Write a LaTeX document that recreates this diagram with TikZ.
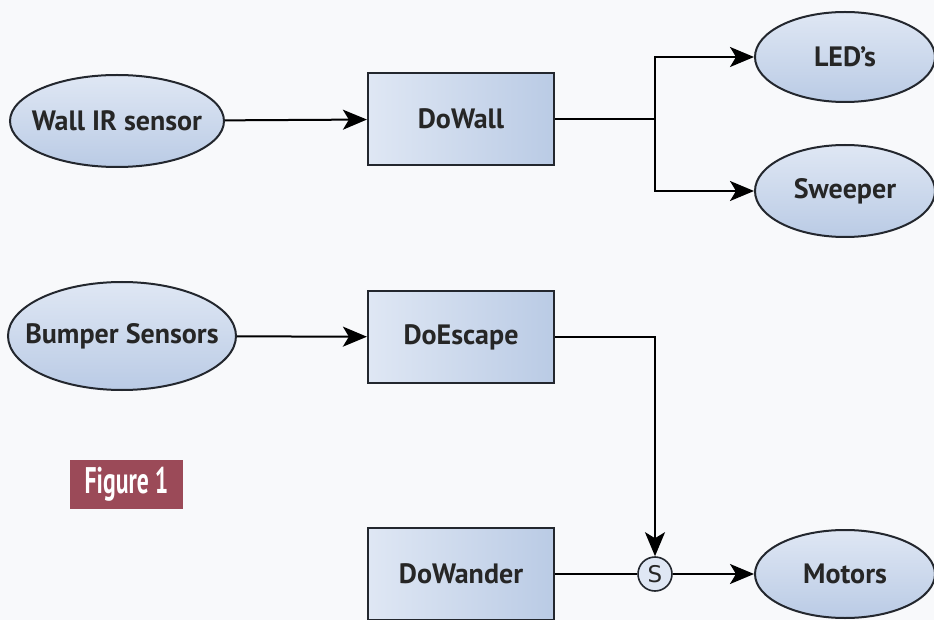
\documentclass[tikz,border=0pt]{standalone}
\usepackage{fontspec}
\setmainfont{PT Sans}
\newfontfamily\labelfont{PT Sans}[FakeStretch=0.64]
\newfontfamily\symfont{DejaVu Sans}
\usetikzlibrary{shapes.geometric,arrows.meta}
\definecolor{nodeline}{HTML}{23272E}
\definecolor{nodetop}{HTML}{DFE7F4}
\definecolor{nodebot}{HTML}{BACBE5}
\definecolor{figred}{HTML}{9B4A58}
\definecolor{paper}{HTML}{F8F9FB}
\newcommand{\zerowide}[1]{\makebox[0pt]{#1}}
\tikzset{
  x=1pt, y=-1pt,
  every node/.style={font=\bfseries\fontsize{28}{30}\selectfont, text=black!85},
  oval/.style={ellipse, draw=nodeline, line width=2pt, top color=nodetop, bottom color=nodebot, inner sep=0pt},
  block/.style={rectangle, draw=nodeline, line width=2.2pt, left color=nodetop, right color=nodebot, minimum width=186pt, minimum height=92pt, inner sep=0pt},
  sw/.style={circle, draw=nodeline, line width=1.6pt, fill=nodetop, minimum size=34pt, inner sep=0pt, font=\symfont\fontsize{23}{26}\selectfont},
  wire/.style={line width=2pt, draw=black},
  flow/.style={wire, -{Stealth[length=24pt,width=20pt,inset=6pt]}},
}
\begin{document}
\begin{tikzpicture}
  \fill[paper] (0,0) rectangle (934,620);
  \useasboundingbox (0,0) rectangle (934,620);

  % sensors and actuators (fixed outline size, text kept inside)
  \node[oval, minimum width=214pt, minimum height=92pt] (wall) at (117,121) {\zerowide{Wall IR sensor}};
  \node[oval, minimum width=228pt, minimum height=108pt] (bump) at (122,336) {\zerowide{Bumper Sensors}};
  \node[oval, minimum width=180pt, minimum height=90pt] (led) at (845,57) {\zerowide{LED's}};
  \node[oval, minimum width=180pt, minimum height=92pt] (sweep) at (845,191) {\zerowide{Sweeper}};
  \node[oval, minimum width=180pt, minimum height=88pt] (motor) at (845,574) {\zerowide{Motors}};

  % behaviours
  \node[block] (dowall) at (461,119) {DoWall};
  \node[block] (doesc) at (461,337) {DoEscape};
  \node[block] (dowand) at (461,574) {DoWander};

  % suppression node
  \node[sw] (s) at (655,574) {S};

  % junction of the DoWall fan-out
  \coordinate (fork) at (655,119);

  \draw[flow] (wall) -- (dowall);
  \draw[flow] (bump) -- (doesc);
  \draw[wire] (dowall) -- (fork);
  \draw[flow] (fork) |- (led);
  \draw[flow] (fork) |- (sweep);
  \draw[flow] (doesc) -| (s);
  \draw[wire] (dowand) -- (s);
  \draw[flow] (s) -- (motor);

  % caption tag
  \node[fill=figred, minimum width=113pt, minimum height=49pt, inner sep=0pt,
        font=\labelfont\bfseries\fontsize{37}{38}\selectfont, text=white] (fig) at (126.5,484.5) {Figure 1};
\end{tikzpicture}
\end{document}
